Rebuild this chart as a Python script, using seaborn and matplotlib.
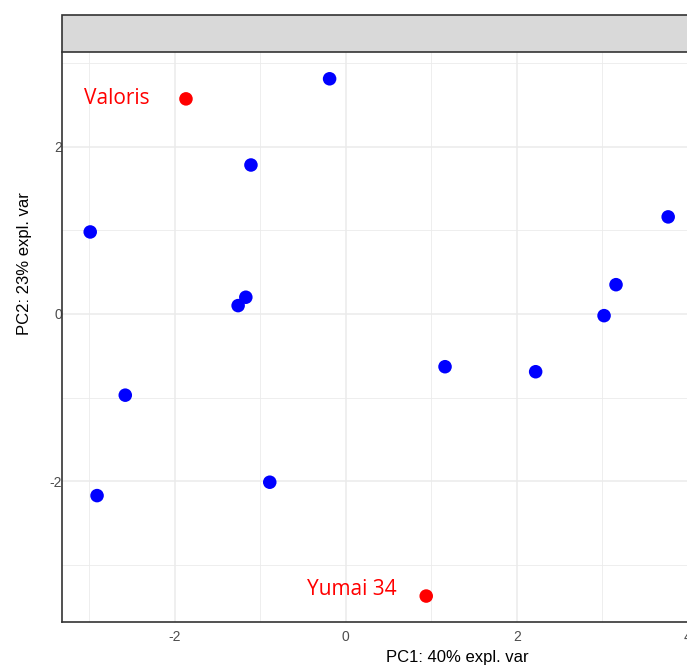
import matplotlib
matplotlib.use("Agg")
import matplotlib.pyplot as plt
import seaborn as sns
import pandas as pd
from matplotlib.ticker import MultipleLocator
from matplotlib.patches import Rectangle

# Data
names = ["Valoris", "Yumai 34", "s1", "s2", "s3", "s4", "s5", "s6", "s7", "s8",
         "s9", "s10", "s11", "s12", "s13"]
pc1 = [-1.87, 0.94, -0.19, -1.11, -2.99, -1.17, -1.26, -2.58, -2.91, -0.89,
       1.16, 2.22, 3.02, 3.16, 3.77]
pc2 = [2.57, -3.37, 2.81, 1.78, 0.98, 0.20, 0.10, -0.97, -2.17, -2.01,
       -0.63, -0.69, -0.02, 0.35, 1.16]
group = ["hl", "hl"] + ["other"] * 13
labelled = ["Valoris", "Yumai 34"]

df = pd.DataFrame({"name": names, "PC1": pc1, "PC2": pc2, "group": group})

sns.set_theme(style="white")
plt.rcParams['font.family'] = ['Liberation Sans', 'DejaVu Sans']
plt.rcParams['axes.unicode_minus'] = False

W, H = 687, 668
fig = plt.figure(figsize=(W / 100, H / 100), dpi=100)
L, R, B, T = 62, 852, 622, 52
ax = fig.add_axes([L / W, (H - B) / H, (R - L) / W, (B - T) / H])

sns.scatterplot(data=df, x="PC1", y="PC2", hue="group",
                palette={"hl": "#ff0000", "other": "#0000ff"},
                s=95, linewidth=0, legend=False, ax=ax, zorder=3)

ax.set_xlim(-3.32, 5.92)
ax.set_ylim(-3.68, 3.13)
ax.xaxis.set_major_locator(MultipleLocator(2))
ax.yaxis.set_major_locator(MultipleLocator(2))
ax.xaxis.set_minor_locator(MultipleLocator(1))
ax.yaxis.set_minor_locator(MultipleLocator(1))
ax.grid(True, which="major", color="#ebebeb", linewidth=1.1)
ax.grid(True, which="minor", color="#ebebeb", linewidth=0.6)
ax.set_axisbelow(True)

for s in ["top", "right"]:
    ax.spines[s].set_visible(False)
for s in ["left", "bottom"]:
    ax.spines[s].set_color("#333333")
    ax.spines[s].set_linewidth(1.2)

ax.tick_params(axis="both", which="major", length=3, width=0.8, color="#333333",
               labelsize=10, labelcolor="#4d4d4d")
ax.tick_params(axis="x", pad=3)
ax.tick_params(axis="y", pad=-3)
ax.tick_params(which="minor", length=0)
ax.set_xlabel("PC1: 40% expl. var", fontsize=12, color="black", labelpad=4)
ax.set_ylabel("")
fig.text(25 / W, 1 - 264 / H, "PC2: 23% expl. var", rotation=90, fontsize=12,
         ha="center", va="center", color="black")

# Labels for highlighted samples
offsets = {"Valoris": (-36, 0), "Yumai 34": (-30, 7)}
for _, r in df[df["name"].isin(labelled)].iterrows():
    dx, dy = offsets[r["name"]]
    ax.annotate(r["name"], (r["PC1"], r["PC2"]), xytext=(dx, dy),
                textcoords="offset pixels", ha="right", va="center",
                color="#ff0000", fontsize=15, family=["Open Sans", "DejaVu Sans"])

# Facet strip
fig.patches.append(Rectangle((L / W, (H - T) / H), (R - L) / W, 37 / H,
                             transform=fig.transFigure, facecolor="#d9d9d9",
                             edgecolor="#333333", linewidth=1.2))

fig.savefig("out.png", dpi=100)
